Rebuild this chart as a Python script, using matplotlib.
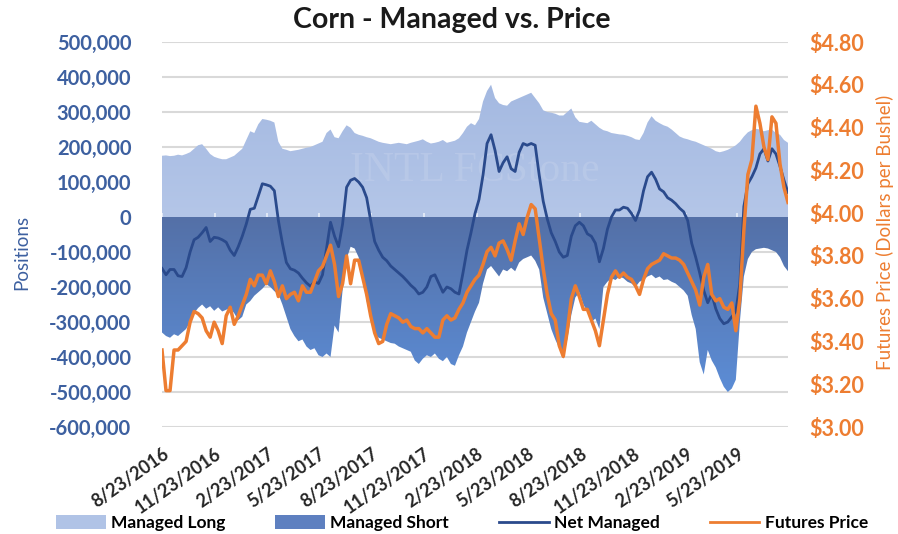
import numpy as np
import pandas as pd
import matplotlib
matplotlib.use("Agg")
import matplotlib.pyplot as plt
import matplotlib.dates as mdates
from matplotlib.patches import Patch
from matplotlib.lines import Line2D
from matplotlib.colors import LinearSegmentedColormap
from matplotlib.ticker import FuncFormatter, MultipleLocator

# ---------------- data (weekly, thousands of contracts / $ per bushel) ----------------
dates = pd.date_range("2016-08-23", periods=157, freq="7D")

managed_long = [
    175, 176, 174, 175, 178, 176, 180, 185, 195, 205, 208, 195, 180, 172, 168, 165,
    165, 170, 175, 185, 195, 220, 245, 240, 265, 280, 278, 275, 270, 215, 195, 192,
    188, 190, 192, 195, 198, 200, 205, 210, 215, 240, 250, 228, 225, 245, 262, 255,
    240, 235, 232, 228, 225, 220, 215, 212, 210, 208, 210, 212, 210, 208, 212, 215,
    218, 222, 215, 210, 212, 215, 220, 212, 215, 218, 225, 240, 258, 268, 262, 280,
    330, 360, 378, 340, 325, 320, 318, 330, 335, 340, 345, 350, 355, 340, 325, 305,
    300, 298, 295, 290, 290, 300, 310, 285, 272, 270, 268, 275, 265, 255, 248, 245,
    240, 238, 236, 235, 232, 228, 222, 220, 240, 270, 288, 275, 268, 262, 258, 250,
    240, 230, 225, 222, 218, 215, 210, 205, 200, 195, 188, 185, 188, 192, 198, 205,
    215, 230, 242, 248, 252, 250, 245, 248, 250, 240, 235, 220, 212,
]

managed_short = [
    -330, -340, -345, -335, -340, -330, -320, -300, -275, -260, -250, -262, -255, -268, -258, -270,
    -265, -260, -275, -295, -285, -250, -240, -225, -215, -205, -192, -200, -212, -220, -250, -285,
    -320, -340, -355, -350, -370, -380, -375, -395, -400, -390, -400, -310, -330, -210, -120, -85,
    -90, -115, -165, -240, -290, -335, -345, -350, -355, -360, -362, -370, -375, -380, -385, -410,
    -420, -405, -395, -400, -390, -405, -412, -400, -420, -425, -395, -370, -330, -300, -270, -245,
    -190, -150, -140, -155, -170, -150, -155, -145, -155, -130, -120, -115, -110, -125, -150, -230,
    -275, -320, -350, -375, -405, -350, -280, -230, -215, -250, -270, -300, -290, -320, -200, -185,
    -175, -180, -170, -175, -185, -190, -200, -185, -180, -170, -165, -175, -170, -180, -178, -185,
    -190, -200, -210, -225, -280, -320, -415, -450, -380, -410, -430, -460, -485, -500, -490, -465,
    -300, -170, -120, -100, -92, -90, -88, -90, -95, -100, -115, -140, -155,
]

net_managed = [
    -147, -165, -150, -150, -168, -170, -145, -100, -65, -58, -45, -30, -70, -58, -60, -65,
    -72, -95, -110, -85, -55, -20, 22, 25, 60, 95, 92, 88, 75, -10, -75, -130,
    -148, -152, -160, -175, -188, -198, -185, -190, -165, -90, -15, -55, -85, -20, 85, 105,
    110, 100, 85, 55, -10, -70, -95, -115, -125, -140, -150, -160, -170, -182, -195, -205,
    -220, -215, -200, -170, -165, -190, -215, -200, -205, -215, -220, -160, -95, -45, 10, 50,
    120, 210, 235, 190, 130, 155, 172, 138, 130, 185, 210, 205, 210, 205, 120, 45,
    -5, -45, -70, -100, -115, -110, -55, -25, -15, -25, -48, -55, -75, -128, -90, -35,
    0, 20, 20, 28, 25, 10, -10, 20, 75, 115, 128, 108, 80, 72, 55, 48,
    38, 25, 15, -10, -75, -115, -160, -210, -245, -220, -262, -290, -305, -300, -285, -270,
    -190, 30, 95, 115, 140, 180, 195, 160, 195, 180, 145, 105, 70,
]

futures_price = [
    3.36, 3.17, 3.17, 3.36, 3.36, 3.38, 3.40, 3.49, 3.54, 3.53, 3.51, 3.45, 3.42, 3.49, 3.45, 3.39,
    3.52, 3.56, 3.48, 3.52, 3.57, 3.62, 3.69, 3.66, 3.71, 3.71, 3.67, 3.73, 3.68, 3.61, 3.66, 3.60,
    3.62, 3.63, 3.59, 3.66, 3.63, 3.63, 3.68, 3.73, 3.75, 3.80, 3.85, 3.76, 3.61, 3.67, 3.80, 3.67,
    3.78, 3.78, 3.70, 3.62, 3.52, 3.44, 3.39, 3.40, 3.48, 3.53, 3.52, 3.51, 3.49, 3.50, 3.47, 3.46,
    3.46, 3.44, 3.46, 3.44, 3.42, 3.42, 3.50, 3.52, 3.50, 3.51, 3.55, 3.58, 3.63, 3.66, 3.69, 3.71,
    3.76, 3.82, 3.84, 3.80, 3.86, 3.87, 3.83, 3.78, 3.87, 3.95, 3.90, 3.98, 4.04, 4.02, 3.88, 3.74,
    3.62, 3.53, 3.50, 3.38, 3.33, 3.45, 3.60, 3.66, 3.61, 3.55, 3.55, 3.50, 3.45, 3.38, 3.50, 3.62,
    3.70, 3.73, 3.70, 3.72, 3.70, 3.69, 3.66, 3.62, 3.69, 3.74, 3.76, 3.77, 3.78, 3.81, 3.80, 3.79,
    3.79, 3.78, 3.76, 3.72, 3.68, 3.64, 3.57, 3.70, 3.76, 3.62, 3.59, 3.60, 3.56, 3.55, 3.58, 3.45,
    3.60, 3.92, 4.18, 4.25, 4.50, 4.42, 4.31, 4.25, 4.45, 4.42, 4.23, 4.12, 4.05,
]

tick_labels = ["8/23/2016", "11/23/2016", "2/23/2017", "5/23/2017", "8/23/2017", "11/23/2017",
               "2/23/2018", "5/23/2018", "8/23/2018", "11/23/2018", "2/23/2019", "5/23/2019"]

title = "Corn - Managed vs. Price"
left_label = "Positions"
right_label = "Futures Price (Dollars per Bushel)"
legend_names = ["Managed Long", "Managed Short", "Net Managed", "Futures Price"]

# ---------------- styling ----------------
FONT = ["Lato", "DejaVu Sans"]
plt.rcParams["font.family"] = FONT
BLUE_TXT = "#3d60a0"
ORANGE = "#ed7d31"
NAVY = "#2a4a8c"
LONG_C = "#b0c3e6"
SHORT_TOP = "#5470a7"
SHORT_BOT = "#5c8dd6"
GRID = "#d9d9d9"

fig = plt.figure(figsize=(8.98, 5.34), dpi=100)
ax = fig.add_axes([162 / 898, 1 - 427 / 534, (788 - 162) / 898, (427 - 42) / 534])

xd = mdates.date2num(dates)
long_v = np.array(managed_long) * 1000
short_v = np.array(managed_short) * 1000
net_v = np.array(net_managed) * 1000

# long area with slight gradient
long_poly = ax.fill_between(xd, 0, long_v, color="none", lw=0, zorder=1)
cm_long = LinearSegmentedColormap.from_list("l", ["#a4b9e1", "#b4c6e8"])
im1 = ax.imshow(np.linspace(0, 1, 256).reshape(-1, 1), extent=[xd[0], xd[-1], 0, 380000],
                origin="upper", aspect="auto", cmap=cm_long, zorder=1)
im1.set_clip_path(long_poly.get_paths()[0], transform=ax.transData)

# short area with gradient
short_poly = ax.fill_between(xd, short_v, 0, color="none", lw=0, zorder=1)
cm_short = LinearSegmentedColormap.from_list("s", [SHORT_TOP, SHORT_BOT])
im2 = ax.imshow(np.linspace(0, 1, 256).reshape(-1, 1), extent=[xd[0], xd[-1], -500000, 0],
                origin="upper", aspect="auto", cmap=cm_short, zorder=1)
im2.set_clip_path(short_poly.get_paths()[0], transform=ax.transData)

# watermark
ax.text(0.5, 0.665, "INTL FCStone", transform=ax.transAxes, ha="center", va="center",
        fontsize=30, family=["Liberation Serif", "DejaVu Serif"], color="#bccbe9", alpha=0.7, zorder=2)

# zero-line tick marks
tick_dates = mdates.date2num(pd.to_datetime(tick_labels, format="%m/%d/%Y"))
ax.vlines(tick_dates, 0, 12000, color="#e8eef8", lw=1.2, zorder=2)

ax.plot(xd, net_v, color=NAVY, lw=2.0, zorder=3)

ax.set_xlim(xd[0], xd[-1])
ax.set_ylim(-600000, 500000)
ax.yaxis.set_major_locator(MultipleLocator(100000))
ax.yaxis.set_major_formatter(FuncFormatter(lambda v, p: f"{int(round(v)):,}"))
ax.grid(axis="y", color=GRID, lw=1.5, zorder=0)
ax.set_axisbelow(True)
for s in ax.spines.values():
    s.set_visible(False)
ax.tick_params(axis="y", length=0, pad=22, labelsize=14.5, labelcolor=BLUE_TXT)
for t in ax.get_yticklabels():
    t.set_fontweight("bold")

ax.set_xticks(tick_dates)
ax.set_xticklabels(tick_labels, rotation=35, ha="right", rotation_mode="anchor",
                   fontsize=13, fontweight="bold", color="#262626")
ax.tick_params(axis="x", length=0, pad=13)

# price axis
ax2 = ax.twinx()
ax2.plot(xd, futures_price, color=ORANGE, lw=2.5, zorder=4)
ax2.set_ylim(3.0, 4.8)
ax2.yaxis.set_major_locator(MultipleLocator(0.2))
ax2.yaxis.set_major_formatter(FuncFormatter(lambda v, p: f"${v:.2f}"))
for s in ax2.spines.values():
    s.set_visible(False)
ax2.tick_params(axis="y", length=0, pad=15, labelsize=15.5, labelcolor=ORANGE)
for t in ax2.get_yticklabels():
    t.set_fontweight("bold")
ax2.set_xlim(xd[0], xd[-1])

fig.text(0.503, 0.963, title, ha="center", va="center", fontsize=20.5, fontweight="bold", color="#1a1a1a")
fig.text(22 / 898, 1 - 252 / 534, left_label, rotation=90, ha="center", va="center",
         fontsize=13.5, color=BLUE_TXT)
fig.text(885 / 898, 1 - 232 / 534, right_label, rotation=90, ha="center", va="center",
         fontsize=13.5, color=ORANGE)

handles = [Patch(facecolor=LONG_C, edgecolor="none"),
           Patch(facecolor="#5e80c0", edgecolor="none"),
           Line2D([0], [0], color=NAVY, lw=2),
           Line2D([0], [0], color=ORANGE, lw=2)]
fig.legend(handles, legend_names, loc="center", bbox_to_anchor=(462 / 898, 1 - 523 / 534), ncol=4,
           frameon=False, handlelength=2.85, handleheight=0.9, handletextpad=0.3,
           columnspacing=2.9, prop={"weight": "bold", "size": 12.5})

fig.savefig("out.png", dpi=100, facecolor="white")
